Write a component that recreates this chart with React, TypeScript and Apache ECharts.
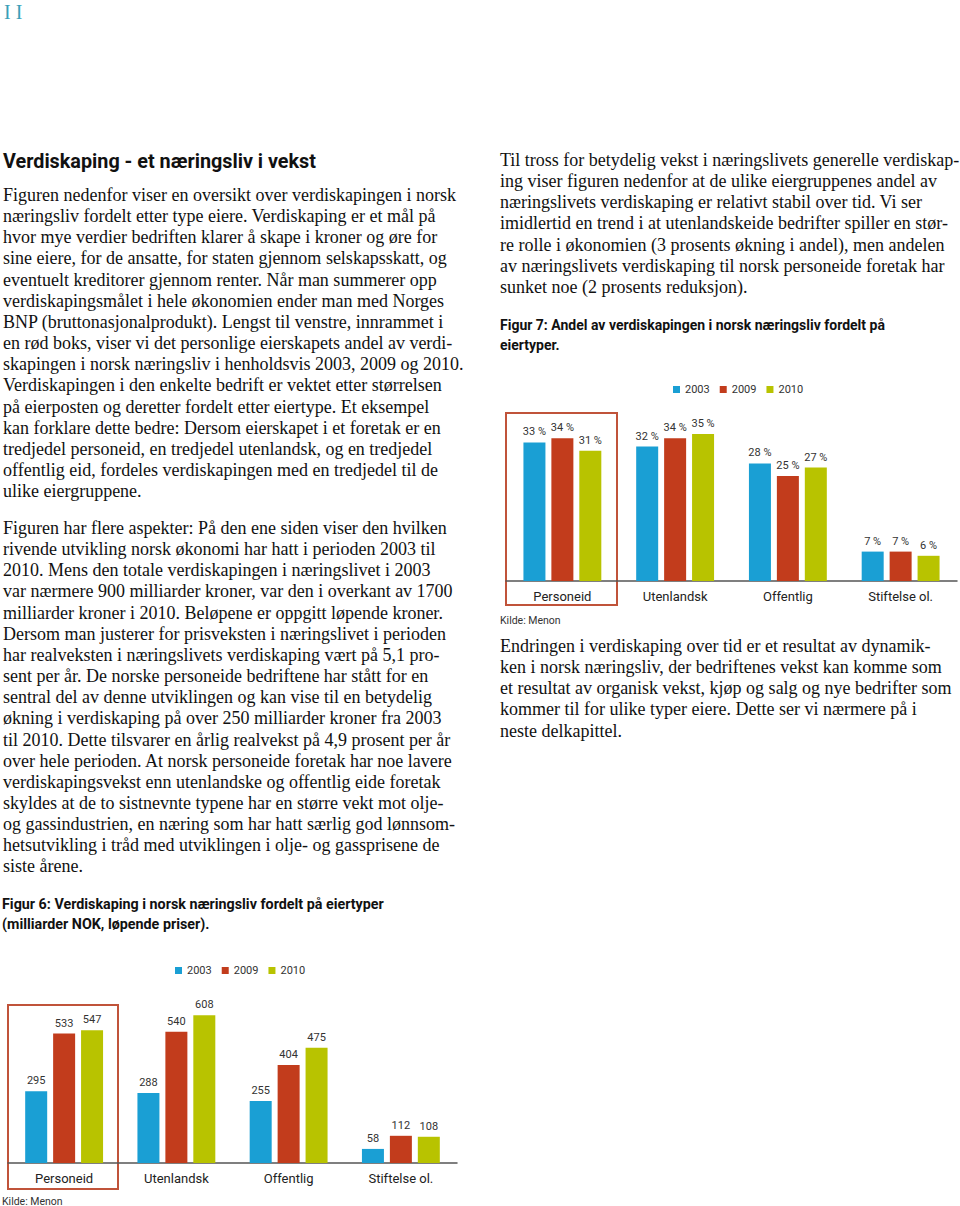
import React, { useEffect, useRef } from "react";
import * as echarts from "echarts";

const categories = ["Personeid", "Utenlandsk", "Offentlig", "Stiftelse ol."];
const years = ["2003", "2009", "2010"];
const fig6Values = [
  [295, 288, 255, 58],
  [533, 540, 404, 112],
  [547, 608, 475, 108],
];
const fig7Values = [
  [33, 32, 28, 7],
  [34, 34, 25, 7],
  [31, 35, 27, 6],
];
const colors = ["#1a9fd4", "#c23c1c", "#b8c300"];

const heading = "Verdiskaping - et næringsliv i vekst";
const leftPara1 = [
  "Figuren nedenfor viser en oversikt over verdiskapingen i norsk",
  "næringsliv fordelt etter type eiere. Verdiskaping er et mål på",
  "hvor mye verdier bedriften klarer å skape i kroner og øre for",
  "sine eiere, for de ansatte, for staten gjennom selskapsskatt, og",
  "eventuelt kreditorer gjennom renter. Når man summerer opp",
  "verdiskapingsmålet i hele økonomien ender man med Norges",
  "BNP (bruttonasjonalprodukt). Lengst til venstre, innrammet i",
  "en rød boks, viser vi det personlige eierskapets andel av verdi-",
  "skapingen i norsk næringsliv i henholdsvis 2003, 2009 og 2010.",
  "Verdiskapingen i den enkelte bedrift er vektet etter størrelsen",
  "på eierposten og deretter fordelt etter eiertype. Et eksempel",
  "kan forklare dette bedre: Dersom eierskapet i et foretak er en",
  "tredjedel personeid, en tredjedel utenlandsk, og en tredjedel",
  "offentlig eid, fordeles verdiskapingen med en tredjedel til de",
  "ulike eiergruppene.",
];
const leftPara2 = [
  "Figuren har flere aspekter: På den ene siden viser den hvilken",
  "rivende utvikling norsk økonomi har hatt i perioden 2003 til",
  "2010. Mens den totale verdiskapingen i næringslivet i 2003",
  "var nærmere 900 milliarder kroner, var den i overkant av 1700",
  "milliarder kroner i 2010. Beløpene er oppgitt løpende kroner.",
  "Dersom man justerer for prisveksten i næringslivet i perioden",
  "har realveksten i næringslivets verdiskaping vært på 5,1 pro-",
  "sent per år. De norske personeide bedriftene har stått for en",
  "sentral del av denne utviklingen og kan vise til en betydelig",
  "økning i verdiskaping på over 250 milliarder kroner fra 2003",
  "til 2010. Dette tilsvarer en årlig realvekst på 4,9 prosent per år",
  "over hele perioden. At norsk personeide foretak har noe lavere",
  "verdiskapingsvekst enn utenlandske og offentlig eide foretak",
  "skyldes at de to sistnevnte typene har en større vekt mot olje-",
  "og gassindustrien, en næring som har hatt særlig god lønnsom-",
  "hetsutvikling i tråd med utviklingen i olje- og gassprisene de",
  "siste årene.",
];
const rightPara1 = [
  "Til tross for betydelig vekst i næringslivets generelle verdiskap-",
  "ing viser figuren nedenfor at de ulike eiergruppenes andel av",
  "næringslivets verdiskaping er relativt stabil over tid. Vi ser",
  "imidlertid en trend i at utenlandskeide bedrifter spiller en stør-",
  "re rolle i økonomien (3 prosents økning i andel), men andelen",
  "av næringslivets verdiskaping til norsk personeide foretak har",
  "sunket noe (2 prosents reduksjon).",
];
const rightPara2 = [
  "Endringen i verdiskaping over tid er et resultat av dynamik-",
  "ken i norsk næringsliv, der bedriftenes vekst kan komme som",
  "et resultat av organisk vekst, kjøp og salg og nye bedrifter som",
  "kommer til for ulike typer eiere. Dette ser vi nærmere på i",
  "neste delkapittel.",
];
const fig7Title = ["Figur 7: Andel av verdiskapingen i norsk næringsliv fordelt på", "eiertyper."];
const fig6Title = ["Figur 6: Verdiskaping i norsk næringsliv fordelt på eiertyper", "(milliarder NOK, løpende priser)."];
const source = "Kilde: Menon";

const SERIF = '"Liberation Serif", "DejaVu Serif", serif';
const SANS = 'Roboto, "Noto Sans", sans-serif';
const TEXT = "#111";

function lines(arr: string[], x: number, y0: number, lh: number, font: string, color = TEXT) {
  return arr.map((t, i) => ({
    type: "text",
    x,
    y: y0 + i * lh,
    silent: true,
    style: { text: t, font, fill: color, verticalAlign: "middle", align: "left" },
  }));
}

export default function App() {
  const ref = useRef<HTMLDivElement>(null);
  useEffect(() => {
    document.body.style.margin = "0";
    const chart = echarts.init(ref.current!, null, { renderer: "svg" });
    const bodyFont = `18px ${SERIF}`;
    const figFont = `bold 14px ${SANS}`;
    const lh = 21.15;

    const series: any[] = [];
    years.forEach((y, i) => {
      series.push({
        type: "bar",
        name: y,
        xAxisIndex: 0,
        yAxisIndex: 0,
        data: fig6Values[i],
        barWidth: 22,
        barGap: "27%",
        itemStyle: { color: colors[i] },
        label: { show: true, position: "top", distance: 5, fontSize: 11, color: "#333", fontFamily: SANS },
      });
      series.push({
        type: "bar",
        name: y,
        xAxisIndex: 1,
        yAxisIndex: 1,
        data: fig7Values[i],
        barWidth: 22,
        barGap: "27%",
        itemStyle: { color: colors[i] },
        label: {
          show: true,
          position: "top",
          distance: 5,
          fontSize: 11,
          color: "#333",
          fontFamily: SANS,
          formatter: (p: any) => `${p.value} %`,
        },
      });
    });

    const xAxisBase = {
      type: "category",
      data: categories,
      axisLine: { lineStyle: { color: "#555", width: 1.5 } },
      axisTick: { show: false },
      axisLabel: { fontSize: 13, color: "#222", margin: 9, fontFamily: SANS },
    };
    const legendBase = {
      data: years,
      icon: "rect",
      itemWidth: 7,
      itemHeight: 7,
      itemGap: 10,
      orient: "horizontal",
      selectedMode: false,
      textStyle: { fontSize: 11, color: "#333", fontFamily: SANS, padding: [0, 0, 0, 0] },
    };

    const graphic: any[] = [
      { type: "text", x: 4, y: 12, silent: true, style: { text: "I I", font: `20px ${SERIF}`, fill: "#3a9fb8", verticalAlign: "middle" } },
      { type: "text", x: 3, y: 161, silent: true, style: { text: heading, font: `bold 19.8px ${SANS}`, fill: "#111", verticalAlign: "middle" } },
      ...lines(leftPara1, 3, 195, lh, bodyFont),
      ...lines(leftPara2, 3, 528, lh, bodyFont),
      ...lines(rightPara1, 500, 160, lh, bodyFont),
      ...lines(rightPara2, 500, 646, lh, bodyFont),
      ...lines(fig7Title, 500, 325, 20, figFont, "#111"),
      ...lines(fig6Title, 2, 904, 19.5, `bold 14.3px ${SANS}`, "#111"),
      { type: "text", x: 500, y: 620, silent: true, style: { text: source, font: `10.5px ${SANS}`, fill: "#333", verticalAlign: "middle" } },
      { type: "text", x: 2, y: 1201, silent: true, style: { text: source, font: `10.5px ${SANS}`, fill: "#333", verticalAlign: "middle" } },
      { type: "rect", silent: true, shape: { x: 506, y: 413, width: 111, height: 192 }, style: { fill: "none", stroke: "#c0533a", lineWidth: 2 } },
      { type: "rect", silent: true, shape: { x: 8, y: 1005, width: 110, height: 184 }, style: { fill: "none", stroke: "#c0533a", lineWidth: 2 } },
    ];

    chart.setOption({
      animation: false,
      backgroundColor: "#fff",
      grid: [
        { left: 8, top: 993, width: 449, height: 170 },
        { left: 506, top: 413, width: 451, height: 168 },
      ],
      xAxis: [
        { ...xAxisBase, gridIndex: 0 },
        { ...xAxisBase, gridIndex: 1 },
      ],
      yAxis: [
        { type: "value", gridIndex: 0, min: 0, max: 700, show: false },
        { type: "value", gridIndex: 1, min: 0, max: 40, show: false },
      ],
      legend: [
        { ...legendBase, left: 170, top: 960 },
        { ...legendBase, left: 668, top: 379 },
      ],
      series,
      graphic,
    });
    return () => chart.dispose();
  }, []);
  return <div ref={ref} style={{ width: 960, height: 1206 }} />;
}
